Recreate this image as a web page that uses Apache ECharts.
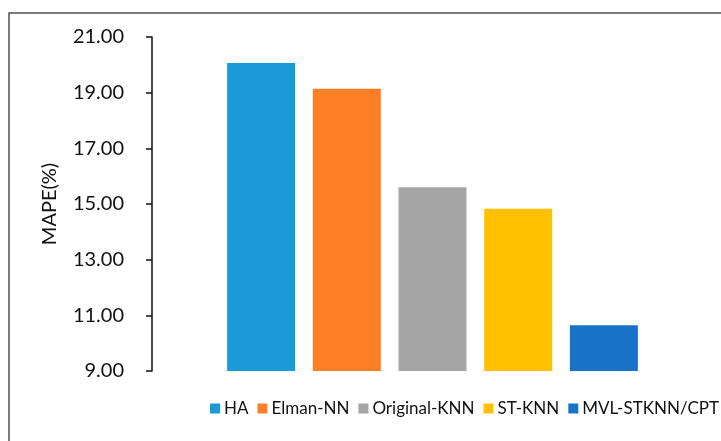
<!DOCTYPE html>
<html>
<head>
<meta charset="utf-8">
<script src="https://cdn.jsdelivr.net/npm/echarts@6/dist/echarts.min.js"></script>
<style>
  html, body { margin: 0; padding: 0; background: #fff; }
  #chart { width: 721px; height: 441px; }
</style>
</head>
<body>
<div id="chart"></div>
<script>
// Mean absolute percentage error of each forecasting method
const methods = ['HA', 'Elman-NN', 'Original-KNN', 'ST-KNN', 'MVL-STKNN/CPT'];
const mape = [20.07, 19.14, 15.60, 14.83, 10.64];
const colors = ['#1A9BD8', '#FF7F27', '#A6A6A6', '#FFC000', '#1772C8'];
const yTicks = { min: 9, max: 21, step: 2 };

const FONT = 'Lato';

const series = methods.map((name, i) => ({
  name: name,
  type: 'bar',
  data: [mape[i]],
  barWidth: 68,
  barGap: '26%',
  itemStyle: { color: colors[i] }
}));

const chart = echarts.init(document.getElementById('chart'), null, { renderer: 'canvas' });
chart.setOption({
  backgroundColor: '#ffffff',
  animation: false,
  textStyle: { fontFamily: FONT },
  grid: { left: 152, right: 8, top: 37, bottom: 70, containLabel: false },
  legend: {
    data: methods,
    left: 210,
    top: 400,
    width: 511,
    padding: 0,
    icon: 'rect',
    itemWidth: 10,
    itemHeight: 10,
    itemGap: 9,
    textStyle: { fontFamily: FONT, fontSize: 17, color: '#111', padding: [0, 0, 0, -1] }
  },
  xAxis: {
    type: 'category',
    data: [''],
    axisLine: { show: false },
    axisTick: { show: false },
    axisLabel: { show: false }
  },
  yAxis: {
    type: 'value',
    min: yTicks.min,
    max: yTicks.max,
    interval: yTicks.step,
    name: 'MAPE(%)',
    nameLocation: 'middle',
    nameGap: 92,
    nameTextStyle: { fontFamily: FONT, fontSize: 20, color: '#111' },
    axisLine: { show: true, lineStyle: { color: '#111', width: 1.5 } },
    axisTick: { show: true, inside: false, length: 6, lineStyle: { color: '#111', width: 1.5 } },
    axisLabel: {
      margin: 28,
      fontFamily: FONT,
      fontSize: 20,
      color: '#111',
      formatter: v => v.toFixed(2)
    },
    splitLine: { show: false }
  },
  graphic: [{
    type: 'rect',
    silent: true,
    shape: { x: 9, y: 13, width: 800, height: 600 },
    style: { fill: null, stroke: '#505050', lineWidth: 1.5 }
  }],
  series: series
});
</script>
</body>
</html>
